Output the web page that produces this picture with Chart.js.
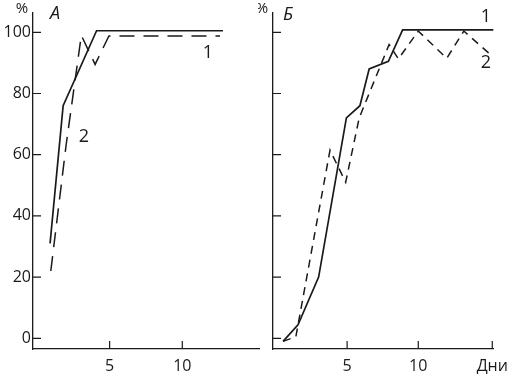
<!DOCTYPE html>
<html><head><meta charset="utf-8">
<script src="https://cdn.jsdelivr.net/npm/chart.js@4"></script>
<style>
html,body{margin:0;padding:0;background:#fff;width:516px;height:376px;overflow:hidden}
canvas{position:absolute;top:0}
</style></head><body>
<canvas id="a" width="262" height="376" style="left:0"></canvas>
<canvas id="b" width="258" height="376" style="left:258px"></canvas>
<script>
// ---- data ----
const yTicks = [0, 20, 40, 60, 80, 100];
const xTicksA = [5, 10];
const xTickLabelsA = ['5', '10'];
const xTicksB = [5, 10, 15.2];
const xTickLabelsB = ['5', '10', 'Дни'];
// Panel A
const aX1 = [0.9, 1.8, 4.1, 12.8];
const aY1 = [31, 76, 100.5, 100.5];
const aX2 = [0.95, 2.0, 3.05, 4.0, 4.95, 12.6];
const aY2 = [22, 63, 99, 89.5, 98.8, 98.8];
// Panel Б
const bX1 = [0.5, 1.55, 3.0, 4.95, 5.9, 6.55, 7.9, 8.9, 15.3];
const bY1 = [-1, 4.4, 20, 72, 76, 88, 90.5, 100.8, 100.8];
const bX2 = [0.5, 1.4, 3.8, 4.9, 5.85, 7.95, 8.6, 10.0, 12.0, 13.2, 15.0];
const bY2 = [-1, 0.5, 61.5, 51, 72, 96, 91.3, 100.4, 91.5, 100.4, 93];

const C = '#1a1a1a';
const FONT = "'Open Sans', 'DejaVu Sans', sans-serif";
const pts = (xs, ys) => xs.map((x, i) => ({x, y: ys[i]}));

const innerTicks = {
  id: 'innerTicks',
  afterDraw(chart) {
    const {ctx, chartArea: a, scales: {x, y}} = chart;
    ctx.save();
    ctx.strokeStyle = C; ctx.lineWidth = 1.2;
    ctx.beginPath();
    y.ticks.forEach(t => { const py = y.getPixelForValue(t.value); ctx.moveTo(a.left, py); ctx.lineTo(a.left + 8, py); });
    x.ticks.forEach(t => { const px = x.getPixelForValue(t.value); ctx.moveTo(px, a.bottom); ctx.lineTo(px, a.bottom - 8); });
    ctx.stroke();
    const notes = chart.options.plugins.notes || [];
    notes.forEach(n => {
      ctx.font = (n.italic ? 'italic ' : '') + n.size + 'px ' + FONT;
      ctx.fillStyle = C; ctx.textAlign = 'center'; ctx.textBaseline = 'middle';
      ctx.fillText(n.t, n.x, n.y);
    });
    ctx.restore();
  }
};

function makeChart(id, d1, d2, dash, xTicks, xLabels, yW, padR, showY, notes, xmin) {
  return new Chart(document.getElementById(id), {
    type: 'line',
    data: { datasets: [
      { data: d1, borderColor: C, borderWidth: 1.7, pointRadius: 0, tension: 0, fill: false },
      { data: d2, borderColor: C, borderWidth: 1.5, borderDash: dash, pointRadius: 0, tension: 0, fill: false }
    ]},
    options: {
      responsive: false, animation: false, devicePixelRatio: 1,
      layout: { padding: { top: 13, right: padR, left: 0, bottom: 0 } },
      plugins: { legend: { display: false }, tooltip: { enabled: false }, notes },
      scales: {
        x: {
          type: 'linear', min: xmin, max: 15.28,
          afterBuildTicks: s => { s.ticks = xTicks.map(v => ({value: v})); },
          afterFit: s => { s.height = 27; },
          grid: { display: false, drawTicks: false },
          border: { display: true, color: C, width: 1.3 },
          ticks: { padding: 8, color: C, font: { family: FONT, size: 16 }, maxRotation: 0, autoSkip: false,
                   callback: (v, i) => xLabels[i] }
        },
        y: {
          type: 'linear', min: -3.5, max: 106.3,
          afterBuildTicks: s => { s.ticks = yTicks.map(v => ({value: v})); },
          afterFit: s => { s.width = yW; },
          grid: { display: false, drawTicks: false },
          border: { display: true, color: C, width: 1.3 },
          ticks: { display: showY, padding: 2, color: C, font: { family: FONT, size: 16 }, autoSkip: false,
                   callback: v => String(v) }
        }
      }
    },
    plugins: [innerTicks]
  });
}

makeChart('a', pts(aX1, aY1), pts(aX2, aY2), [15, 9], xTicksA, xTickLabelsA, 33, 3, true,
  [ {t: '%', x: 22, y: 9, size: 15}, {t: 'A', x: 55, y: 14, size: 18, italic: true},
    {t: '1', x: 208, y: 53, size: 18}, {t: '2', x: 84, y: 137, size: 18} ], -0.275);
makeChart('b', pts(bX1, bY1), pts(bX2, bY2), [8, 6], xTicksB, xTickLabelsB, 15, 18, false,
  [ {t: '%', x: 4, y: 9, size: 15}, {t: 'Б', x: 30, y: 15, size: 18, italic: true},
    {t: '1', x: 228, y: 17, size: 18}, {t: '2', x: 228, y: 63, size: 18} ], -0.206);
</script>
</body></html>
